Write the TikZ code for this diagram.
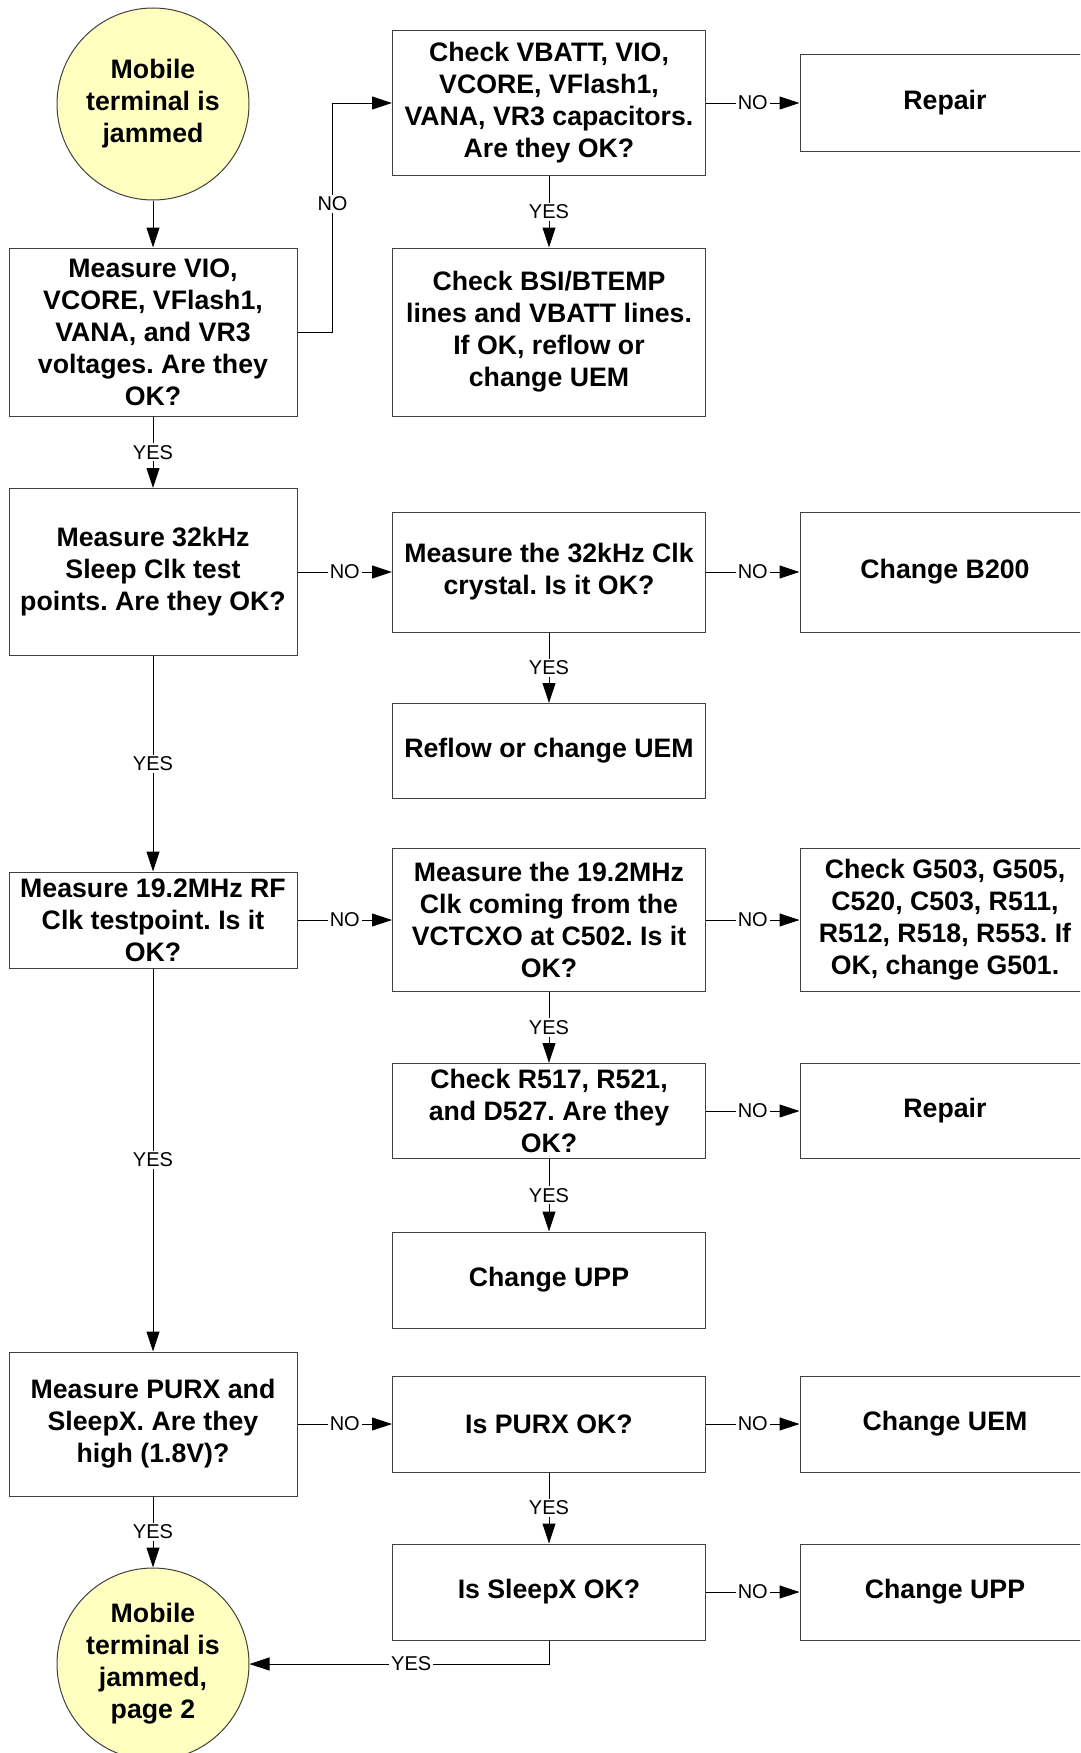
\documentclass[tikz,border=0pt]{standalone}
\usepackage{fontspec}
\setmainfont{Liberation Sans}
\usetikzlibrary{arrows.meta}
\definecolor{termyellow}{RGB}{255,255,192}
\frenchspacing

\begin{document}
\begin{tikzpicture}[x=1pt, y=-1pt,
  box/.style={draw=black!75, line width=1pt, align=center, inner sep=0pt,
    font=\fontsize{26.7}{32}\selectfont\bfseries},
  lcol/.style={box, minimum width=288pt},
  mcol/.style={box, minimum width=313pt},
  rcol/.style={box, minimum width=290pt},
  term/.style={circle, draw=black!75, fill=termyellow, line width=1pt,
    minimum size=192pt, inner sep=0pt, align=center,
    font=\fontsize{26.7}{32}\selectfont\bfseries},
  flow/.style={line width=1pt, -{Triangle[length=20pt,width=13pt]}},
  lbl/.style={fill=white, inner sep=2pt, font=\fontsize{20}{24}\selectfont}]
\clip (0,0) rectangle (1080,1753);
\fill[white] (0,0) rectangle (1080,1753);

\path (153,104) node[term] (start) {Mobile\\terminal is\\jammed};
\path (153,332) node[lcol, minimum height=168pt] (vio) {Measure VIO,\\VCORE, VFlash1,\\VANA, and VR3\\voltages. Are they\\OK?};
\path (153,572) node[lcol, minimum height=167pt] (sclk) {Measure 32kHz\\Sleep Clk test\\points. Are they OK?};
\path (153,920) node[lcol, minimum height=96pt] (rfclk) {Measure 19.2MHz RF\\Clk testpoint. Is it\\OK?};
\path (153,1424) node[lcol, minimum height=144pt] (purx) {Measure PURX and\\SleepX. Are they\\high (1.8V)?};
\path (153,1664) node[term] (stop) {Mobile\\terminal is\\jammed,\\page 2};

\path (549,103) node[mcol, minimum height=145pt] (caps) {Check VBATT, VIO,\\VCORE, VFlash1,\\VANA, VR3 capacitors.\\Are they OK?};
\path (549,332) node[mcol, minimum height=168pt] (bsi) {Check BSI/BTEMP\\lines and VBATT lines.\\If OK, reflow or\\change UEM};
\path (549,572) node[mcol, minimum height=120pt] (xtal) {Measure the 32kHz Clk\\crystal. Is it OK?};
\path (549,751) node[mcol, minimum height=95pt] (reflow) {Reflow or change UEM};
\path (549,920) node[mcol, minimum height=143pt] (vctcxo) {Measure the 19.2MHz\\Clk coming from the\\VCTCXO at C502. Is it\\OK?};
\path (549,1111) node[mcol, minimum height=95pt] (rparts) {Check R517, R521,\\and D527. Are they\\OK?};
\path (549,1280) node[mcol, minimum height=96pt] (uppA) {Change UPP};
\path (549,1424) node[mcol, minimum height=96pt] (ispurx) {Is PURX OK?};
\path (549,1592) node[mcol, minimum height=96pt] (issleep) {Is SleepX OK?};

\path (945,103) node[rcol, minimum height=96pt] (repA) {Repair};
\path (945,572) node[rcol, minimum height=120pt] (b200) {Change B200};
\path (945,920) node[rcol, minimum height=143pt] (gparts) {Check G503, G505,\\C520, C503, R511,\\R512, R518, R553. If\\OK, change G501.};
\path (945,1111) node[rcol, minimum height=95pt] (repB) {Repair};
\path (945,1424) node[rcol, minimum height=96pt] (uem) {Change UEM};
\path (945,1592) node[rcol, minimum height=96pt] (uppB) {Change UPP};

\draw[flow] (start) -- (vio);
\draw[flow] (vio.east) -- ++(35,0) |- node[lbl, pos=0.28] {NO} (caps.west);
\draw[flow] (caps) -- node[lbl] {NO} (repA);
\draw[flow] (caps) -- node[lbl] {YES} (bsi);
\draw[flow] (vio) -- node[lbl] {YES} (sclk);
\draw[flow] (sclk) -- node[lbl] {NO} (xtal);
\draw[flow] (xtal) -- node[lbl] {NO} (b200);
\draw[flow] (xtal) -- node[lbl] {YES} (reflow);
\draw[flow] (sclk) -- node[lbl] {YES} (rfclk);
\draw[flow] (rfclk) -- node[lbl] {NO} (vctcxo);
\draw[flow] (vctcxo) -- node[lbl] {NO} (gparts);
\draw[flow] (vctcxo) -- node[lbl] {YES} (rparts);
\draw[flow] (rparts) -- node[lbl] {NO} (repB);
\draw[flow] (rparts) -- node[lbl] {YES} (uppA);
\draw[flow] (rfclk) -- node[lbl] {YES} (purx);
\draw[flow] (purx) -- node[lbl] {NO} (ispurx);
\draw[flow] (ispurx) -- node[lbl] {NO} (uem);
\draw[flow] (ispurx) -- node[lbl] {YES} (issleep);
\draw[flow] (issleep) -- node[lbl] {NO} (uppB);
\draw[flow] (purx) -- node[lbl] {YES} (stop);
\draw[flow] (issleep.south) |- node[lbl, pos=0.73] {YES} (stop.east);
\end{tikzpicture}
\end{document}
